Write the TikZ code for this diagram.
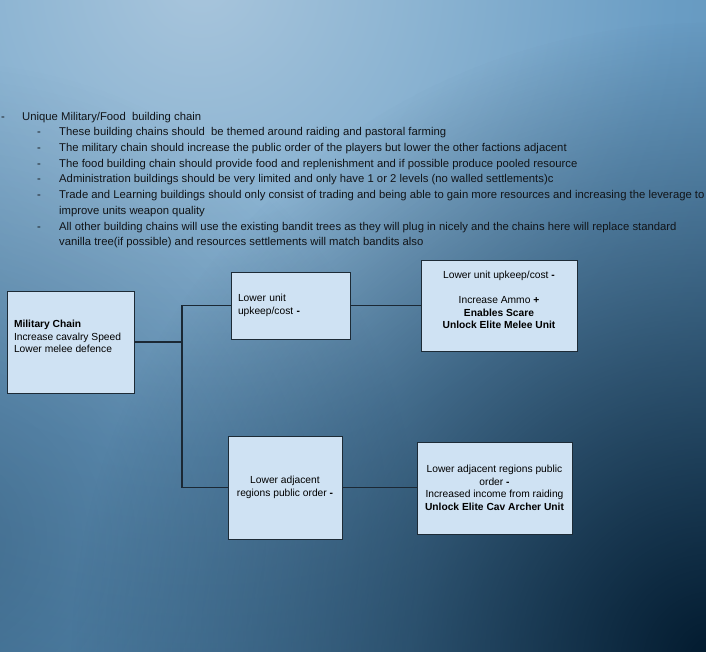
\documentclass[tikz,border=0pt]{standalone}
\usepackage{fontspec}
\setmainfont{Liberation Sans}
\usetikzlibrary{fadings}

\definecolor{backlight}{RGB}{168,197,220}
\definecolor{backmid}{RGB}{140,180,210}
\definecolor{backblue}{RGB}{106,157,196}
\definecolor{backdeep}{RGB}{86,139,179}
\definecolor{backlow}{RGB}{76,129,167}
\definecolor{backedge}{RGB}{62,114,150}
\definecolor{deepnavy}{RGB}{2,26,46}
\definecolor{boxfill}{RGB}{207,226,243}
\definecolor{boxedge}{RGB}{29,43,54}
\definecolor{linkline}{RGB}{27,40,52}
\definecolor{notetextcol}{RGB}{17,20,24}

\pgfdeclareradialshading{focusback}{\pgfpoint{0bp}{0bp}}{%
  color(0bp)=(backlight); color(6bp)=(backmid); color(13bp)=(backblue);
  color(21bp)=(backdeep); color(32bp)=(backlow); color(50bp)=(backedge)}
\tikzfading[name=cornerfade, inner color=transparent!0, outer color=transparent!100]
\tikzfading[name=sidefade, inner color=transparent!68, outer color=transparent!100]

\begin{document}
\begin{tikzpicture}[x=1pt,y=1pt,yscale=-1,
  chainbox/.style={draw=boxedge, fill=boxfill, line width=0.9pt, inner sep=7pt, font=\fontsize{10.25}{12.5}\selectfont},
  chainline/.style={draw=linkline, line width=1.2pt},
  notetext/.style={anchor=base west, inner sep=0pt, text=notetextcol, font=\fontsize{11.3}{15.6}\selectfont}]
%set diagram: width 706, height 652
\path[use as bounding box] (0,0) rectangle (706,652);

%Shape: Background
\begin{scope}
\clip (0,0) rectangle (706,652);
\shade[shading=focusback] (200,-20) circle (900);
\fill[deepnavy, path fading=sidefade] (-60,540) circle (480);
\fill[deepnavy, path fading=cornerfade] (712,660) circle (640);
\end{scope}

% Text Node
\node[notetext] (dash0) at (1,121) {-};
\node[notetext] (note0) at (22,121) {Unique Military/Food\ \ building chain};
% Text Node
\node[notetext] (dash1) at (37,136) {-};
\node[notetext] (note1) at (59,136) {These building chains should\ \ be themed around raiding and pastoral farming};
% Text Node
\node[notetext] (dash2) at (37,152) {-};
\node[notetext] (note2) at (59,152) {The military chain should increase the public order of the players but lower the other factions adjacent};
% Text Node
\node[notetext] (dash3) at (37,167.5) {-};
\node[notetext] (note3) at (59,167.5) {The food building chain should provide food and replenishment and if possible produce pooled resource};
% Text Node
\node[notetext] (dash4) at (37,183) {-};
\node[notetext] (note4) at (59,183) {Administration buildings should be very limited and only have 1 or 2 levels (no walled settlements)c};
% Text Node
\node[notetext] (dash5) at (37,199) {-};
\node[notetext] (note5) at (59,199) {Trade and Learning buildings should only consist of trading and being able to gain more resources and increasing the leverage to};
\node[notetext] (note5b) at (59,214.5) {improve units weapon quality};
% Text Node
\node[notetext] (dash6) at (37,230) {-};
\node[notetext] (note6) at (59,230) {All other building chains will use the existing bandit trees as they will plug in nicely and the chains here will replace standard};
\node[notetext] (note6b) at (59,245.5) {vanilla tree(if possible) and resources settlements will match bandits also};

%Shape: Rectangle
\node[chainbox, minimum width=127pt, minimum height=102pt] (military) at (70.5,342)
  {\raisebox{5.5pt}[\height][\depth]{\parbox{113pt}{\raggedright\textbf{Military Chain}\\Increase cavalry Speed\\Lower melee defence}}};
%Shape: Rectangle
\node[chainbox, minimum width=119pt, minimum height=67pt, text width=105pt, align=left] (upkeep) at (290.5,305.5)
  {Lower unit\\upkeep/cost \textbf{-}};
%Shape: Rectangle
\node[chainbox, minimum width=156pt, minimum height=91pt] (melee) at (499,305.5)
  {\raisebox{5.5pt}[\height][\depth]{\parbox{142pt}{\centering Lower unit upkeep/cost \textbf{-}\\[12.5pt]Increase Ammo \textbf{+}\\\textbf{Enables Scare}\\\textbf{Unlock Elite Melee Unit}}}};
%Shape: Rectangle
\node[chainbox, minimum width=114pt, minimum height=103pt, align=center] (adjacent) at (285,487.5)
  {Lower adjacent\\regions public order \textbf{-}};
%Shape: Rectangle
\node[chainbox, minimum width=155pt, minimum height=92pt, inner xsep=3pt, align=center] (archer) at (494.5,488)
  {Lower adjacent regions public\\order \textbf{-}\\Increased income from raiding\\\textbf{Unlock Elite Cav Archer Unit}};

\coordinate (split) at (182,342);
%Straight Lines
\draw[chainline] (military.east) -- (split) |- (upkeep.west);
\draw[chainline] (split) |- (adjacent.west);
%Straight Lines
\draw[chainline] (upkeep.east) -- (melee.west);
\draw[chainline] (adjacent.east) -- (adjacent.east -| archer.west);

\end{tikzpicture}
\end{document}
